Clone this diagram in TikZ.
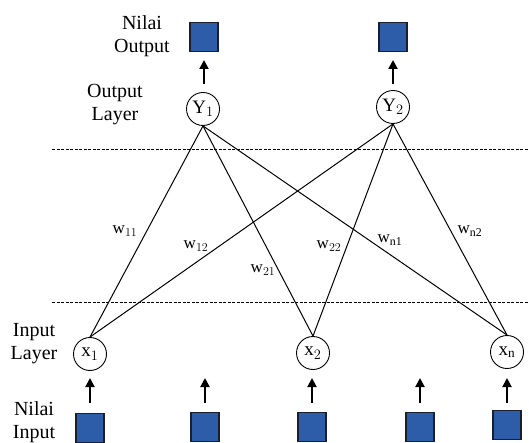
\documentclass[tikz,border=0pt]{standalone}
\usepackage{fontspec}
\setmainfont{Liberation Serif}
\usetikzlibrary{arrows.meta}
\definecolor{boxblue}{HTML}{2D5DA8}
\definecolor{boxedge}{HTML}{1A1F2E}
\begin{document}
\begin{tikzpicture}[x=1pt,y=-1pt,
  sq/.style={draw=boxedge,line width=1.2pt,fill=boxblue,minimum width=28pt,minimum height=29pt,inner sep=0pt},
  neuron/.style={circle,draw,line width=0.9pt,minimum size=33pt,inner sep=0pt,font=\fontsize{19}{19}\selectfont},
  lbl/.style={align=center,font=\fontsize{20}{23}\selectfont},
  wl/.style={font=\fontsize{17}{17}\selectfont,inner sep=1pt},
  up/.style={-{Triangle[length=9pt,width=9pt]},line width=2pt},
  conn/.style={line width=1pt},
  sep/.style={line width=0.8pt,dash pattern=on 3pt off 1.5pt}]
\useasboundingbox (0,0) rectangle (529,443);
% output squares
\node[sq] (o1) at (204,37) {};
\node[sq] (o2) at (393,37) {};
% output neurons
\node[neuron] (y1) at (203,109) {Y$_1$};
\node[neuron] (y2) at (393,107) {Y$_2$};
% input neurons
\node[neuron] (x1) at (90,354) {x$_1$};
\node[neuron] (x2) at (313,353) {x$_2$};
\node[neuron] (xn) at (507,352) {x$_\mathrm{n}$};
% input squares
\node[sq] (i1) at (90,428) {};
\node[sq] (i2) at (205,427) {};
\node[sq] (i3) at (312,427) {};
\node[sq] (i4) at (420,427) {};
\node[sq] (i5) at (507,425) {};
% arrow ends
\coordinate (b1) at (204,84); \coordinate (t1) at (204,60);
\coordinate (b2) at (393,84); \coordinate (t2) at (393,60);
\foreach \n/\x in {1/90,2/205,3/312,4/420,5/507}{
  \coordinate (ib\n) at (\x,403);
  \coordinate (it\n) at (\x,378);
}
% labels
\node[lbl] (lno) at (142,36) {Nilai\\Output};
\node[lbl] (lol) at (115,105) {Output\\Layer};
\node[lbl] (lil) at (34,344) {Input\\Layer};
\node[lbl,anchor=north] (lni) at (34,398) {Nilai\\Input};
% separators
\coordinate (s1l) at (52,149); \coordinate (s1r) at (529,149);
\coordinate (s2l) at (52,302); \coordinate (s2r) at (529,302);
\draw[sep] (s1l) -- (s1r);
\draw[sep] (s2l) -- (s2r);
% arrows
\draw[up] (b1) -- (t1);
\draw[up] (b2) -- (t2);
\foreach \n in {1,...,5}{\draw[up] (ib\n) -- (it\n);}
% connections
\draw[conn] (y1.south) -- (x1.north);
\draw[conn] (y1.south) -- (x2.north);
\draw[conn] (y1.south) -- (xn.north);
\draw[conn] (y2.south) -- (x1.north);
\draw[conn] (y2.south) -- (x2.north);
\draw[conn] (y2.south) -- (xn.north);
% weights
\node[wl] (w11) at (125,231) {w$_{11}$};
\node[wl] (w12) at (196,246) {w$_{12}$};
\node[wl] (w21) at (263,270) {w$_{21}$};
\node[wl] (w22) at (329,246) {w$_{22}$};
\node[wl] (wn1) at (390,240) {w$_\mathrm{n1}$};
\node[wl] (wn2) at (470,231) {w$_\mathrm{n2}$};
\end{tikzpicture}
\end{document}
